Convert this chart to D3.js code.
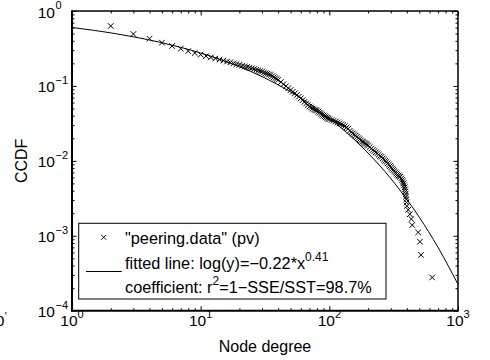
<!DOCTYPE html>
<html><head><meta charset="utf-8">
<script src="https://cdn.jsdelivr.net/npm/d3@7"></script>
<style>
html,body{margin:0;padding:0;background:#fff;}
svg{display:block;}
text{font-family:"Liberation Sans",Arial,Helvetica,sans-serif;fill:#000;}
</style>
</head><body>
<svg id="c" width="490" height="360"></svg>
<script>
// ---- data ----
const degree = [
  2,3,4,5,6,7,8,9,10,
  11,12,13,14,15,16,17,18,19,20,21,22,23,24,25,26,27,28,29,30,31,32,33,34,35,36,37,38,39,40,
  42,44,46,48,50,52,54,56,58,60,62,64,66,68,70,72,74,76,78,80,82,84,86,88,90,92,94,96,98,100,
  104,108,112,116,120,124,128,132,136,140,144,148,152,156,160,164,168,172,176,180,184,188,192,196,200,
  206,212,218,224,230,236,242,248,254,260,266,272,278,284,290,296,302,308,314,320,326,332,338,344,349,
  355,362,368,373,377,381,385,388,390,392,394,396,398,400,410,422,434,441,490,506,516,630
];
const ccdf = [
  0.631,0.493,0.427,0.378,0.341,0.314,0.292,0.275,0.262,
  0.250,0.240,0.232,0.224,0.218,0.211,0.206,0.200,0.195,0.191,0.186,0.182,0.179,0.175,0.172,0.168,0.164,0.161,0.158,0.155,0.151,0.148,0.145,0.142,0.140,0.135,0.131,0.127,0.124,0.120,
  0.1125,0.1054,0.0991,0.0933,0.0881,0.0836,0.0796,0.0756,0.0719,0.0684,0.0646,0.0612,0.0582,0.0556,0.0531,0.0514,0.0498,0.0485,0.0476,0.0468,0.0453,0.0439,0.0426,0.0414,0.0403,0.0394,0.0384,0.0375,0.0367,0.0359,
  0.0351,0.0343,0.0334,0.0325,0.0316,0.0308,0.0299,0.0290,0.0279,0.0269,0.0251,0.0241,0.0232,0.0225,0.0217,0.0209,0.0201,0.0194,0.0187,0.0181,0.0178,0.0173,0.0169,0.0165,0.0160,
  0.0153,0.0146,0.0140,0.0135,0.0130,0.0126,0.0121,0.0116,0.0113,0.0108,0.0104,0.0100,0.00967,0.00925,0.00888,0.00852,0.00818,0.00788,0.00758,0.00730,0.00703,0.00678,0.00655,0.00636,0.00622,
  0.00611,0.00583,0.00556,0.00528,0.00500,0.00472,0.00444,0.00417,0.00389,0.00361,0.00333,0.00306,0.00278,0.00250,0.00222,0.00194,0.00167,0.00139,0.00111,0.000833,0.000556,0.000278
];
const fitDegree = [1,1.5,2,3,5,7,10,15,20,30,50,70,100,150,200,300,500,700,1000];
const fitCcdf = [0.603,0.550,0.511,0.453,0.377,0.327,0.275,0.218,0.181,0.133,0.0833,0.0579,0.0371,0.0206,0.0127,0.00582,0.00177,0.00070,0.000225];
const xTickExponents = [0,1,2,3];
const yTickExponents = [-4,-3,-2,-1,0];
const xLabel = "Node degree";
const yLabel = "CCDF";
const legendMarkerLabel = "\"peering.data\" (pv)";
const legendLineLabel = ["fitted line: log(y)=\u22120.22*x", "0.41"];
const legendCoefLabel = ["coefficient: r", "2", "=1\u2212SSE/SST=98.7%"];

// ---- layout ----
const svg = d3.select("#c");
const L = 72, R = 458, T = 11, B = 310.7;
const x = d3.scaleLog().domain([1, 1000]).range([L, R]);
const y = d3.scaleLog().domain([1e-4, 1]).range([B, T]);

const xMajor = xTickExponents.map(e => Math.pow(10, e));
const yMajor = yTickExponents.map(e => Math.pow(10, e));
const xMinor = [], yMinor = [];
for (let e = 0; e < 3; e++) for (let m = 2; m <= 9; m++) xMinor.push(m * Math.pow(10, e));
for (let e = -4; e < 0; e++) for (let m = 2; m <= 9; m++) yMinor.push(m * Math.pow(10, e));

function drawAxis(gen, transform, values, size) {
  const g = svg.append("g").attr("transform", transform)
    .call(gen.tickValues(values).tickSize(size).tickFormat(""));
  g.select(".domain").remove();
  g.selectAll("line").attr("stroke", "#000").attr("stroke-width", 1);
}
// inward ticks on all four sides
drawAxis(d3.axisBottom(x), `translate(0,${B})`, xMajor, -4.5);
drawAxis(d3.axisBottom(x), `translate(0,${B})`, xMinor, -2.5);
drawAxis(d3.axisTop(x), `translate(0,${T})`, xMajor, -4.5);
drawAxis(d3.axisTop(x), `translate(0,${T})`, xMinor, -2.5);
drawAxis(d3.axisLeft(y), `translate(${L},0)`, yMajor, -4.5);
drawAxis(d3.axisLeft(y), `translate(${L},0)`, yMinor, -2.5);
drawAxis(d3.axisRight(y), `translate(${R},0)`, yMajor, -4.5);
drawAxis(d3.axisRight(y), `translate(${R},0)`, yMinor, -2.5);

// fitted line
const line = d3.line().x(d => x(d[0])).y(d => y(d[1])).curve(d3.curveMonotoneX);
svg.append("path")
  .attr("d", line(fitDegree.map((d, i) => [d, fitCcdf[i]])))
  .attr("fill", "none").attr("stroke", "#000").attr("stroke-width", 1);

// data markers (x)
const ms = 2.8;
const mk = svg.append("g").attr("stroke", "#000").attr("stroke-width", 1).attr("fill", "none");
mk.selectAll("path").data(degree.map((d, i) => [d, ccdf[i]])).join("path")
  .attr("d", d => {
    const cx = x(d[0]), cy = y(d[1]);
    return `M${cx - ms},${cy - ms}L${cx + ms},${cy + ms}M${cx - ms},${cy + ms}L${cx + ms},${cy - ms}`;
  });

// axes box
svg.append("line").attr("x1", L).attr("x2", R).attr("y1", T).attr("y2", T).attr("stroke", "#000").attr("stroke-width", 1.5);
svg.append("line").attr("x1", R).attr("x2", R).attr("y1", T).attr("y2", B).attr("stroke", "#000").attr("stroke-width", 1.5);
svg.append("line").attr("x1", L).attr("x2", L).attr("y1", T - 0.75).attr("y2", B + 1).attr("stroke", "#000").attr("stroke-width", 2);
svg.append("line").attr("x1", L - 1).attr("x2", R + 0.75).attr("y1", B).attr("y2", B).attr("stroke", "#000").attr("stroke-width", 2);

// tick labels
const mainFs = 15.5, supFs = 11;
xTickExponents.forEach(e => {
  const t = svg.append("text").attr("x", x(Math.pow(10, e))).attr("y", 326)
    .attr("text-anchor", "middle").style("font-size", mainFs + "px");
  t.append("tspan").text("10");
  t.append("tspan").attr("dy", -7.7).style("font-size", supFs + "px").text(String(e));
});
yTickExponents.forEach(e => {
  const ty = y(Math.pow(10, e));
  svg.append("text").attr("x", 55).attr("y", ty + 6.5).attr("text-anchor", "end")
    .style("font-size", mainFs + "px").text("10");
  svg.append("text").attr("x", 55.5).attr("y", ty - 2).attr("text-anchor", "start")
    .style("font-size", supFs + "px").text(e < 0 ? "\u2212" + Math.abs(e) : String(e));
});
// cut-off label fragment at the lower left edge (as in the reference)
svg.append("text").attr("x", 4.3).attr("y", 326).attr("text-anchor", "end")
  .style("font-size", mainFs + "px").text("10");
svg.append("text").attr("x", 4.8).attr("y", 320).style("font-size", supFs + "px").text("'");

// axis titles
svg.append("text").attr("x", (L + R) / 2).attr("y", 352).attr("text-anchor", "middle")
  .style("font-size", "16px").text(xLabel);
svg.append("text").attr("transform", `translate(27.3,${(T + B) / 2}) rotate(-90)`)
  .attr("text-anchor", "middle").style("font-size", "16px").text(yLabel);

// legend
const lg = svg.append("g");
lg.append("rect").attr("x", 78.7).attr("y", 223.3).attr("width", 307.3).attr("height", 75.7)
  .attr("fill", "#fff").attr("stroke", "#000").attr("stroke-width", 1);
const lx = 103.7, ly = 237.3, lms = 2.5;
lg.append("path").attr("d", `M${lx - lms},${ly - lms}L${lx + lms},${ly + lms}M${lx - lms},${ly + lms}L${lx + lms},${ly - lms}`)
  .attr("stroke", "#000").attr("stroke-width", 0.9);
lg.append("line").attr("x1", 86).attr("x2", 121.7).attr("y1", 271.5).attr("y2", 271.5)
  .attr("stroke", "#000").attr("stroke-width", 1);
const legFs = 16.3;
lg.append("text").attr("x", 125).attr("y", 243.5).style("font-size", legFs + "px").text(legendMarkerLabel);
const t2 = lg.append("text").attr("x", 125).attr("y", 268.5).style("font-size", legFs + "px");
t2.append("tspan").text(legendLineLabel[0]);
t2.append("tspan").attr("dy", -7.5).style("font-size", "12px").text(legendLineLabel[1]);
const t3 = lg.append("text").attr("x", 125).attr("y", 292.5).style("font-size", legFs + "px");
t3.append("tspan").text(legendCoefLabel[0]);
t3.append("tspan").attr("dy", -8).style("font-size", "12px").text(legendCoefLabel[1]);
t3.append("tspan").attr("dy", 8).text(legendCoefLabel[2]);
</script>
</body></html>
